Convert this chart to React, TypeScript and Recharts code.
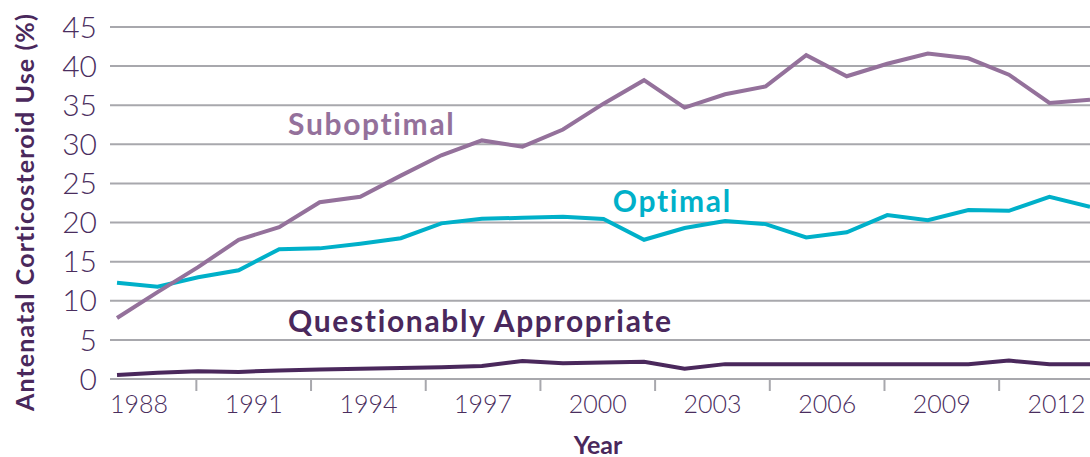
import React from 'react';
import { LineChart, Line, XAxis, YAxis, CartesianGrid, ReferenceDot } from 'recharts';

// years on the data axis
const years = [1988, 1989, 1990, 1991, 1992, 1993, 1994, 1995, 1996, 1997, 1998, 1999, 2000,
  2001, 2002, 2003, 2004, 2005, 2006, 2007, 2008, 2009, 2010, 2011, 2012];

const suboptimal = [7.8, 11.1, 14.3, 17.8, 19.4, 22.6, 23.3, 26.0, 28.6, 30.5, 29.7, 31.9, 35.2,
  38.2, 34.7, 36.4, 37.4, 41.4, 38.7, 40.3, 41.6, 41.0, 38.9, 35.3, 35.7];

const optimal = [12.3, 11.8, 13.0, 13.9, 16.6, 16.7, 17.3, 18.0, 19.9, 20.5, 20.6, 20.75, 20.45,
  17.8, 19.3, 20.2, 19.8, 18.1, 18.75, 20.95, 20.3, 21.6, 21.5, 23.3, 22.0];

const questionable = [0.5, 0.8, 1.0, 0.9, 1.1, 1.2, 1.3, 1.4, 1.5, 1.65, 2.3, 2.0, 2.1,
  2.2, 1.3, 1.9, 1.9, 1.9, 1.9, 1.9, 1.9, 1.9, 2.35, 1.9, 1.9];

const yTicks = [0, 5, 10, 15, 20, 25, 30, 35, 40, 45];
const labelYears = [1988, 1991, 1994, 1997, 2000, 2003, 2006, 2009, 2012];

const data = years.map((year, i) => ({
  year,
  suboptimal: suboptimal[i],
  optimal: optimal[i],
  questionable: questionable[i],
}));

const FONT = 'Lato, "Open Sans", sans-serif';
const TEXT = '#4a2d5e';
const C_SUB = '#94719b';
const C_OPT = '#00b0c9';
const C_QA = '#4a285c';
const GRID = '#a8a8ad';

const CHART_W = 1090;
const AXIS_W = 110;
// the year labels sit on a slightly different scale than the plotted points
const LABEL_DOMAIN = [1987.241, 2012.876];
const PX_PER_YEAR = (CHART_W - AXIS_W) / (LABEL_DOMAIN[1] - LABEL_DOMAIN[0]);

const seriesLabel = (text: string, color: string) => (props: any) => {
  const { x, y } = props.viewBox || {};
  return (
    <text x={x} y={y} fill={color} fontFamily={FONT} fontWeight={700} fontSize={30}
      letterSpacing={1.65} textAnchor="start">
      {text}
    </text>
  );
};

// year label plus the tick mark half-way to the next label
const YearTick = (props: any) => {
  const { x, y, payload, index } = props;
  const half = x + PX_PER_YEAR * 1.5;
  return (
    <g>
      {index < labelYears.length - 1 && (
        <line x1={half} x2={half} y1={y} y2={y + 12} stroke={GRID} strokeWidth={2} />
      )}
      <text x={x} y={y + 34} textAnchor="middle" fill={TEXT} fontFamily={FONT} fontWeight={300} fontSize={25}>
        {payload.value}
      </text>
    </g>
  );
};

const YTitle = (props: any) => {
  const vb = props.viewBox;
  const cx = 24;
  const cy = vb.y + vb.height / 2 + 9;
  return (
    <text x={cx} y={cy} transform={`rotate(-90, ${cx}, ${cy})`} textAnchor="middle" dominantBaseline="central"
      fill={C_QA} fontFamily={FONT} fontWeight={700} fontSize={25} letterSpacing={1.1}>
      Antenatal Corticosteroid Use (%)
    </text>
  );
};

const App: React.FC = () => {
  return (
    <div style={{ position: 'absolute', left: 0, top: 0, background: '#fff' }}>
      <LineChart width={CHART_W} height={457} data={data} margin={{ top: 27, right: 0, bottom: 0, left: 0 }}>
        <CartesianGrid vertical={false} stroke={GRID} strokeWidth={2} />
        <XAxis
          xAxisId="labels"
          dataKey="year"
          type="number"
          domain={LABEL_DOMAIN}
          allowDataOverflow
          ticks={labelYears}
          interval={0}
          height={78}
          axisLine={false}
          tickLine={false}
          tickSize={0}
          tickMargin={0}
          tick={<YearTick />}
        />
        <XAxis xAxisId={0} dataKey="year" type="number" domain={[1987.827, 2012]} allowDataOverflow hide height={0} />
        <YAxis
          domain={[0, 45]}
          ticks={yTicks}
          interval={0}
          width={AXIS_W}
          axisLine={false}
          tickLine={false}
          tickSize={0}
          tickMargin={13}
          tick={{ fill: TEXT, fontFamily: FONT, fontWeight: 300, fontSize: 30 }}
          label={<YTitle />}
        />
        <Line dataKey="optimal" stroke={C_OPT} strokeWidth={4} dot={false} isAnimationActive={false} />
        <Line dataKey="suboptimal" stroke={C_SUB} strokeWidth={4} dot={false} isAnimationActive={false} />
        <Line dataKey="questionable" stroke={C_QA} strokeWidth={4} dot={false} isAnimationActive={false} />
        <ReferenceDot x={1992.22} y={31.2} r={0} ifOverflow="visible" label={seriesLabel('Suboptimal', C_SUB)} />
        <ReferenceDot x={2000.23} y={21.35} r={0} ifOverflow="visible" label={seriesLabel('Optimal', C_OPT)} />
        <ReferenceDot x={1992.22} y={6.0} r={0} ifOverflow="visible" label={seriesLabel('Questionably Appropriate', C_QA)} />
      </LineChart>
      <svg width={CHART_W} height={457} style={{ position: 'absolute', left: 0, top: 0, pointerEvents: 'none' }}>
        <text x={598} y={454} textAnchor="middle" fill={C_QA} fontFamily={FONT} fontWeight={700} fontSize={25}>
          Year
        </text>
      </svg>
    </div>
  );
};

export default App;
